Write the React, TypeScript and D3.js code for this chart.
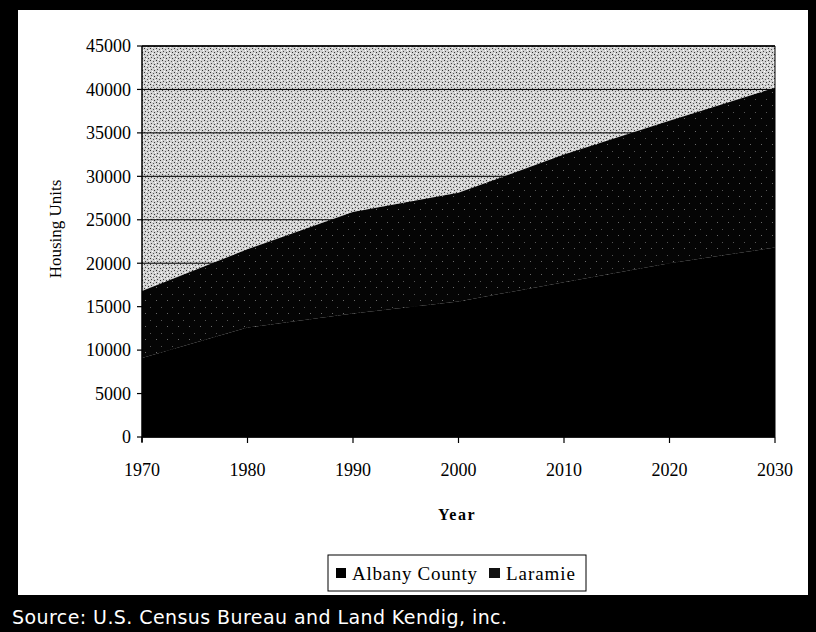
import React from "react";
import * as d3 from "d3";

const years = [1970, 1980, 1990, 2000, 2010, 2020, 2030];
const albanyCounty = [9100, 12600, 14200, 15600, 17800, 20000, 21800];
const laramie = [7700, 9000, 11700, 12500, 14700, 16400, 18400];
const yTicks = [0, 5000, 10000, 15000, 20000, 25000, 30000, 35000, 40000, 45000];
const xTicks = [1970, 1980, 1990, 2000, 2010, 2020, 2030];
const seriesNames = ["Albany County", "Laramie"];

const W = 816;
const H = 632;
const L = 142, R = 775, T = 46, B = 437;

export default function App() {
  const x = d3.scaleLinear().domain([1970, 2030]).range([L, R]);
  const y = d3.scaleLinear().domain([0, 45000]).range([B, T]);
  const rows = years.map((yr, i) => ({ year: yr, a: albanyCounty[i], l: laramie[i] }));
  const stack = d3.stack<any>().keys(["a", "l"]);
  const layers = stack(rows as any);
  const area = d3
    .area<any>()
    .x((d) => x(d.data.year))
    .y0((d) => y(d[0]))
    .y1((d) => y(d[1]));
  const serif = "'Liberation Serif', 'Times New Roman', serif";

  return (
    <svg
      width={W}
      height={H}
      style={{ position: "absolute", left: 0, top: 0, display: "block" }}
    >
      <defs>
        <pattern id="light" width="6" height="6" patternUnits="userSpaceOnUse">
          <rect width="6" height="6" fill="#d2d2d2" />
          <rect x="0" y="0" width="1" height="1" fill="#333" />
          <rect x="3" y="1" width="1" height="1" fill="#555" />
          <rect x="1" y="3" width="1" height="1" fill="#444" />
          <rect x="4" y="4" width="1" height="1" fill="#333" />
          <rect x="5" y="2" width="1" height="1" fill="#fff" />
          <rect x="2" y="5" width="1" height="1" fill="#fff" />
        </pattern>
        <pattern id="dark" width="11" height="13" patternUnits="userSpaceOnUse">
          <rect width="11" height="13" fill="#050505" />
          <rect x="2" y="1" width="1" height="1" fill="#6a6a6a" />
          <rect x="7" y="8" width="1" height="1" fill="#555" />
        </pattern>
      </defs>

      {/* outer frame */}
      <rect x={0} y={0} width={W} height={H} fill="#000" />
      <rect x={18} y={10} width={790} height={585} fill="#fff" />

      {/* plot background */}
      <rect x={L} y={T} width={R - L} height={B - T} fill="url(#light)" />

      {/* gridlines */}
      {yTicks.map((t) => (
        <line key={"g" + t} x1={L} x2={R} y1={y(t)} y2={y(t)} stroke="#000" strokeWidth={1} />
      ))}

      {/* areas */}
      {layers.map((layer, i) => (
        <path
          key={seriesNames[i]}
          d={area(layer as any) || ""}
          fill={i === 0 ? "#000" : "url(#dark)"}
        />
      ))}

      {/* axes */}
      <line x1={L} x2={L} y1={T} y2={B + 5} stroke="#000" strokeWidth={1.5} />
      <line x1={L} x2={R} y1={B} y2={B} stroke="#000" strokeWidth={1.5} />
      <line x1={R} x2={R} y1={T} y2={B} stroke="#000" strokeWidth={1} />
      <line x1={L} x2={R} y1={T} y2={T} stroke="#000" strokeWidth={1.5} />

      {yTicks.map((t) => (
        <g key={"yt" + t}>
          <line x1={L - 5} x2={L} y1={y(t)} y2={y(t)} stroke="#000" strokeWidth={1.2} />
          <text
            x={L - 11}
            y={y(t)}
            dy="0.35em"
            textAnchor="end"
            fontFamily={serif}
            fontSize={18}
            fill="#000"
          >
            {t}
          </text>
        </g>
      ))}
      {xTicks.map((t) => (
        <g key={"xt" + t}>
          <line x1={x(t)} x2={x(t)} y1={B} y2={B + 6} stroke="#000" strokeWidth={1.2} />
          <text
            x={x(t)}
            y={476}
            textAnchor="middle"
            fontFamily={serif}
            fontSize={18}
            fill="#000"
          >
            {t}
          </text>
        </g>
      ))}

      <text
        transform={`translate(61, 229) rotate(-90)`}
        textAnchor="middle"
        fontFamily={serif}
        fontSize={17}
        fill="#000"
      >
        Housing Units
      </text>
      <text
        x={457}
        y={520}
        textAnchor="middle"
        fontFamily={serif}
        fontSize={16}
        fontWeight="bold"
        letterSpacing={1.5}
        fill="#000"
      >
        Year
      </text>

      {/* legend */}
      <rect x={328} y={555} width={258} height={36} fill="#fff" stroke="#000" strokeWidth={1} />
      <rect x={336} y={568} width={10} height={10} fill="#000" />
      <text x={352} y={580} fontFamily={serif} fontSize={19} fill="#000" textLength={125}>
        {seriesNames[0]}
      </text>
      <rect x={489} y={568} width={11} height={10} fill="#111" />
      <text x={506} y={580} fontFamily={serif} fontSize={19} fill="#000" textLength={69}>
        {seriesNames[1]}
      </text>

      {/* source */}
      <text
        x={12}
        y={624}
        fontFamily="'DejaVu Sans', sans-serif"
        fontSize={19}
        fill="#fff"
        textLength={495}
      >
        Source: U.S. Census Bureau and Land Kendig, inc.
      </text>
    </svg>
  );
}
